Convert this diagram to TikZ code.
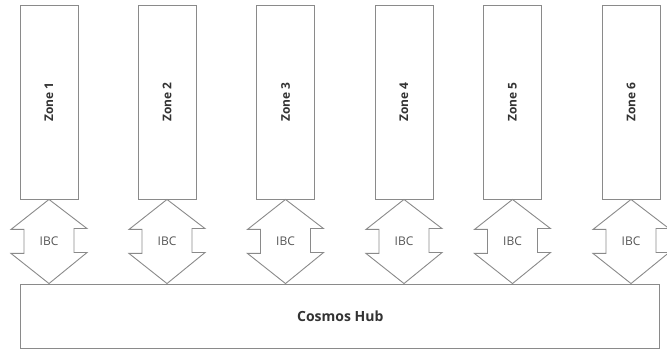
\documentclass[tikz,border=0pt]{standalone}
\usepackage{fontspec}
\setmainfont{Open Sans}
\usepackage{xcolor}
\usepackage{tikz}
\usetikzlibrary{
  arrows.meta,
  positioning,
  calc,
}
\definecolor{linegray}{HTML}{8A8A8A}
\definecolor{textdark}{HTML}{333333}
\definecolor{ibcgray}{HTML}{555555}

\tikzset{
  zonebox/.style={draw=linegray, line width=0.9pt, fill=white,
    minimum width=58pt, minimum height=194pt, inner sep=0pt},
  hubbox/.style={draw=linegray, line width=0.9pt, fill=white,
    minimum width=639pt, minimum height=64pt, inner sep=0pt,
    text=textdark, font=\fontsize{14}{16}\selectfont\bfseries},
  zonelabel/.style={rotate=90, text=textdark,
    font=\fontsize{12}{14}\selectfont\bfseries},
  ibcarrow/.style={draw=linegray, line width=0.9pt, line join=miter},
  ibclabel/.style={text=ibcgray, font=\fontsize{12}{14}\selectfont, inner sep=1pt},
}

\begin{document}
\begin{tikzpicture}[x=1pt, y=1pt]
  \useasboundingbox (0,0) rectangle (667,351);
  \node[hubbox] (hub) at (340.3,35) {Cosmos Hub};
  \foreach \x/\i in {49/1, 167/2, 285.5/3, 404/4, 512.5/5, 631/6} {
    \node[zonebox] (z\i) at (\x,249) {};
    \node[zonelabel] (zl\i) at (z\i) {Zone \i};
    % double arrow between zone and hub
    \draw[ibcarrow] (z\i.south) -- ++(-38,-30) -- ++(13,0) -- ++(0,-24)
      -- ++(-13,0) -- (z\i.south |- hub.north) -- ++(38,31) -- ++(-13,0)
      -- ++(0,24) -- ++(13,0) -- cycle;
    \node[ibclabel] (ibc\i) at ($(z\i.south)!0.5!(z\i.south |- hub.north)$) {IBC};
  }
\end{tikzpicture}
\end{document}
